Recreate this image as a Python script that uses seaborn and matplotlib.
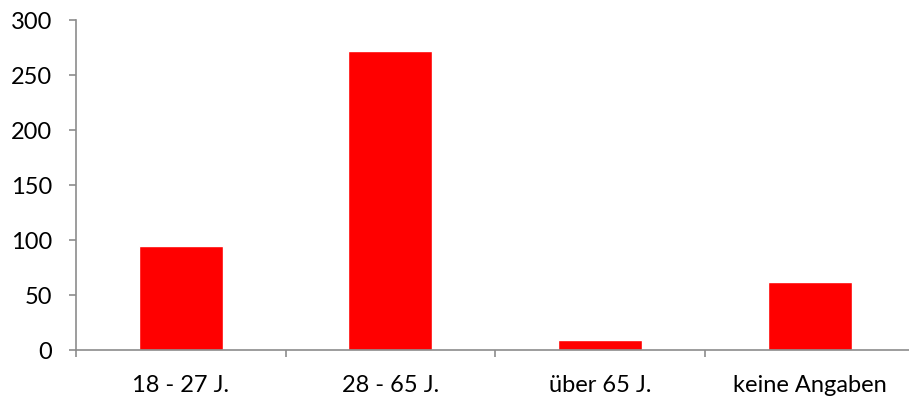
import matplotlib
matplotlib.use("Agg")
import matplotlib.pyplot as plt
import seaborn as sns
import pandas as pd

categories = ["18 - 27 J.", "28 - 65 J.", "über 65 J.", "keine Angaben"]
counts = [95, 272, 9, 62]
y_ticks = [0, 50, 100, 150, 200, 250, 300]

sns.set_style("white")
plt.rcParams["font.family"] = ["Lato", "DejaVu Sans"]

df = pd.DataFrame({"Alter": categories, "Anzahl": counts})

fig = plt.figure(figsize=(9.09, 3.98), dpi=100)
ax = fig.add_axes([0.0836, 0.1206, 1.006 - 0.0836, 0.9497 - 0.1206])

sns.barplot(data=df, x="Alter", y="Anzahl", color="#ff0000", width=0.4,
            saturation=1, ax=ax)

ax.set_xlim(-0.5, 3.5)
ax.set_ylim(0, 300)
ax.set_yticks(y_ticks)
ax.set_xlabel("")
ax.set_ylabel("")

grey = "#8c8c8c"
for side in ["top", "right"]:
    ax.spines[side].set_visible(False)
for side in ["left", "bottom"]:
    ax.spines[side].set_color(grey)
    ax.spines[side].set_linewidth(1.2)

# category labels centred under bars, tick marks between categories
ax.set_xticks(range(len(categories)))
ax.set_xticklabels(categories)
ax.tick_params(axis="x", which="major", bottom=True, length=0, pad=18,
               labelsize=17, colors="black")
ax.set_xticks([-0.5, 0.5, 1.5, 2.5], minor=True)
ax.tick_params(axis="x", which="minor", bottom=True, length=5, width=1.2,
               color=grey)
ax.tick_params(axis="y", left=True, length=5, width=1.2, color=grey,
               labelsize=17, labelcolor="black", pad=12)

fig.savefig("out.png", dpi=100)
